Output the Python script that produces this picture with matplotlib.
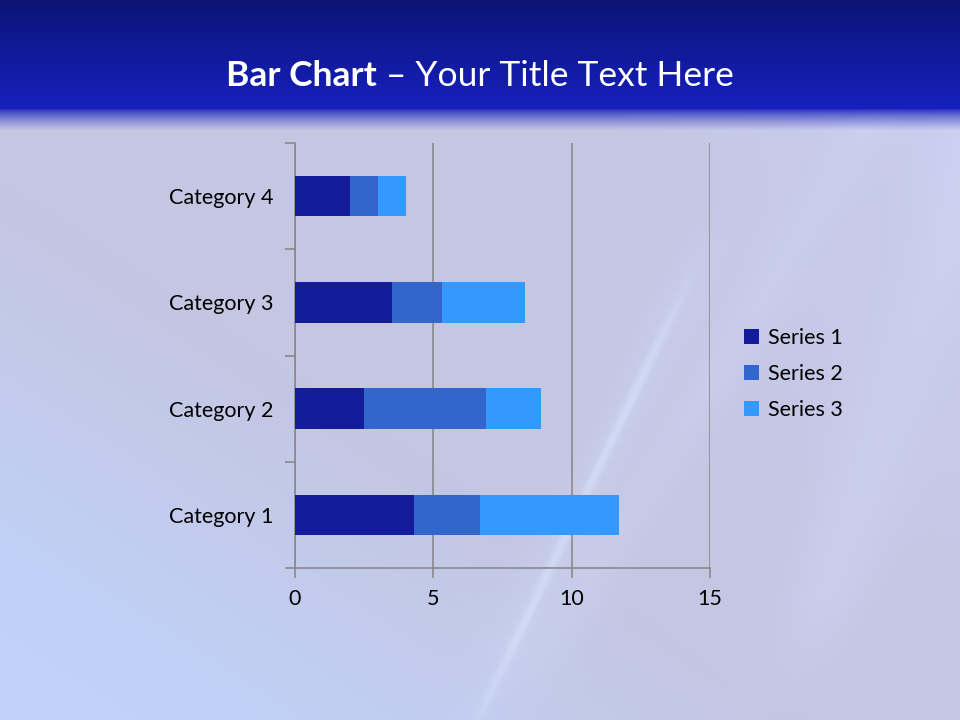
import numpy as np
import matplotlib
matplotlib.use("Agg")
import matplotlib.pyplot as plt
from matplotlib.patches import Patch

categories = ["Category 1", "Category 2", "Category 3", "Category 4"]
series_names = ["Series 1", "Series 2", "Series 3"]
series1 = [4.3, 2.5, 3.5, 2.0]
series2 = [2.4, 4.4, 1.8, 1.0]
series3 = [5.0, 2.0, 3.0, 1.0]
xticks = [0, 5, 10, 15]
colors = ["#141c9c", "#3366cc", "#3399ff"]

FONT = ["Lato", "DejaVu Sans"]
plt.rcParams["font.family"] = FONT

W, H = 960, 720
fig = plt.figure(figsize=(9.6, 7.2), dpi=100)

# ---- background image ----
yy, xx = np.mgrid[0:H, 0:W].astype(float)
img = np.zeros((H, W, 3))
base = np.array([196, 198, 226]) / 255.0
bl = np.array([192, 210, 250]) / 255.0
tr = np.array([205, 210, 248]) / 255.0
t_bl = np.clip(((H - yy) / H * 1.6 + xx / W * 1.4 - 0.2), 0, 1)
for c in range(3):
    img[..., c] = base[c] * t_bl + bl[c] * (1 - t_bl)
rmask = np.clip((xx - 600) / 360, 0, 1) * np.clip(1 - (yy - 120) / 600, 0, 1)
for c in range(3):
    img[..., c] = img[..., c] * (1 - 0.6 * rmask) + tr[c] * 0.6 * rmask

def streak(x0, y0, slope, width, strength, col, ymin=0, ymax=H):
    d = (xx - (x0 + slope * (y0 - yy))) / np.sqrt(1 + slope**2)
    m = np.exp(-(d / width) ** 2) * strength
    fade = np.clip((yy - ymin) / 120, 0, 1) * np.clip((ymax - yy) / 120, 0, 1)
    m = m * fade
    for c in range(3):
        img[..., c] = img[..., c] * (1 - m) + col[c] * m

streak(640, 380, 0.48, 5, 0.5, np.array([220, 235, 255]) / 255, ymin=250, ymax=760)
streak(640, 380, 0.48, 30, 0.22, np.array([210, 220, 255]) / 255, ymin=200, ymax=760)
streak(900, 380, 0.35, 40, 0.25, np.array([215, 222, 255]) / 255)
streak(820, 200, 0.6, 25, 0.2, np.array([215, 222, 255]) / 255)
top = np.array([12, 20, 118]) / 255.0
mid = np.array([22, 32, 188]) / 255.0
hdr = np.zeros((H, W, 3))
tt = np.clip(yy / 105, 0, 1)
for c in range(3):
    hdr[..., c] = top[c] * (1 - tt) + mid[c] * tt
blend = np.clip((yy - 108) / 22, 0, 1) ** 0.7
for c in range(3):
    img[..., c] = hdr[..., c] * (1 - blend) + img[..., c] * blend
img = np.clip(img, 0, 1)

bg = fig.add_axes([0, 0, 1, 1], zorder=-10)
bg.imshow(img, aspect="auto", extent=[0, W, H, 0])
bg.axis("off")

# ---- title ----
t1 = fig.text(0, 0, "Bar Chart", fontsize=25.5, fontweight="bold", color="white",
              va="center", ha="left", family=FONT)
t2 = fig.text(0, 0, " \u2013 Your Title Text Here", fontsize=25.5, color="white",
              va="center", ha="left", family=FONT)
fig.canvas.draw()
r = fig.canvas.get_renderer()
w1 = t1.get_window_extent(r).width
w2 = t2.get_window_extent(r).width
x0 = (W - (w1 + w2)) / 2
yt = 1 - 76 / H
t1.set_position((x0 / W, yt))
t2.set_position(((x0 + w1) / W, yt))

# ---- chart ----
ax = fig.add_axes([295 / W, 1 - 568 / H, 415 / W, 425 / H])
ax.patch.set_alpha(0)
y = np.arange(len(categories))
left = np.zeros(len(categories))
for vals, name, col in zip([series1, series2, series3], series_names, colors):
    ax.barh(y, vals, left=left, height=0.38, color=col, label=name, zorder=3)
    left = left + np.array(vals)

ax.set_xlim(0, 15)
ax.set_ylim(-0.5, len(categories) - 0.5)
ax.set_xticks(xticks)
ax.set_xticklabels([str(v) for v in xticks], fontsize=15.5)
ax.set_yticks(y)
ax.set_yticklabels(categories, fontsize=15.5)
ax.tick_params(axis="y", length=0, pad=15.5)
ax.set_yticks(np.arange(-0.5, len(categories), 1.0), minor=True)
ax.tick_params(axis="y", which="minor", length=7, color="#8a8a8a", width=1.2)
ax.tick_params(axis="x", length=7, color="#8a8a8a", width=1.2, pad=8)
for s in ["top", "right"]:
    ax.spines[s].set_visible(False)
for s in ["left", "bottom"]:
    ax.spines[s].set_color("#8a8a8a")
    ax.spines[s].set_linewidth(1.2)
ax.grid(axis="x", color="#8a8a8a", linewidth=1.2, zorder=0)
ax.grid(axis="y", visible=False)

handles = [Patch(facecolor=c, label=n) for c, n in zip(colors, series_names)]
fig.legend(handles=handles, loc="center left", bbox_to_anchor=(725 / W, 1 - 374 / H),
           frameon=False, fontsize=15.5, handlelength=0.7, handleheight=0.7,
           handletextpad=0.4, labelspacing=0.75)

fig.savefig("out.png", dpi=100)
